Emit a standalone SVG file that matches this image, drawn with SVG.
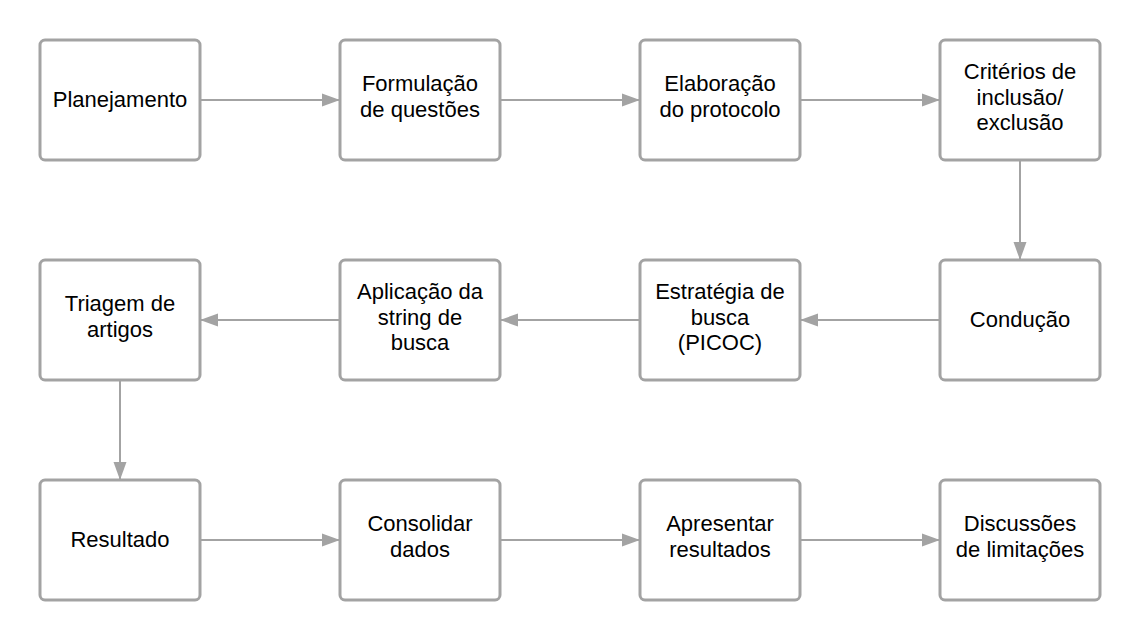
<svg xmlns="http://www.w3.org/2000/svg" width="1140" height="640" viewBox="0 0 1140 640">
<defs>
<marker id="ah" markerUnits="userSpaceOnUse" markerWidth="20" markerHeight="14" refX="18" refY="7" orient="auto">
<path d="M0,0.5 L18,7 L0,13.5 Z" fill="#a3a3a3"/>
</marker>
<style>
.box{fill:#fff;stroke:#a3a3a3;stroke-width:3}
.lbl{font-family:"Liberation Sans",Arial,sans-serif;font-size:22px;fill:#000;text-anchor:middle}
.con{stroke:#a3a3a3;stroke-width:2;fill:none;marker-end:url(#ah)}
</style>
</defs>
<rect width="1140" height="640" fill="#fff"/>
<g id="connectors">
<path class="con" d="M200,100 H340"/>
<path class="con" d="M500,100 H640"/>
<path class="con" d="M800,100 H940"/>
<path class="con" d="M1020,160 V260"/>
<path class="con" d="M940,320 H800"/>
<path class="con" d="M640,320 H500"/>
<path class="con" d="M340,320 H200"/>
<path class="con" d="M120,380 V480"/>
<path class="con" d="M200,540 H340"/>
<path class="con" d="M500,540 H640"/>
<path class="con" d="M800,540 H940"/>
</g>
<g id="n1"><rect class="box" x="40" y="40" width="160" height="120" rx="5"/><text class="lbl" x="120" y="107">Planejamento</text></g>
<g id="n2"><rect class="box" x="340" y="40" width="160" height="120" rx="5"/><text class="lbl" x="420" y="91">Formulação</text><text class="lbl" x="420" y="117">de questões</text></g>
<g id="n3"><rect class="box" x="640" y="40" width="160" height="120" rx="5"/><text class="lbl" x="720" y="91">Elaboração</text><text class="lbl" x="720" y="117">do protocolo</text></g>
<g id="n4"><rect class="box" x="940" y="40" width="160" height="120" rx="5"/><text class="lbl" x="1020" y="79">Critérios de</text><text class="lbl" x="1020" y="105">inclusão/</text><text class="lbl" x="1020" y="130">exclusão</text></g>
<g id="n5"><rect class="box" x="940" y="260" width="160" height="120" rx="5"/><text class="lbl" x="1020" y="327">Condução</text></g>
<g id="n6"><rect class="box" x="640" y="260" width="160" height="120" rx="5"/><text class="lbl" x="720" y="299">Estratégia de</text><text class="lbl" x="720" y="325">busca</text><text class="lbl" x="720" y="350">(PICOC)</text></g>
<g id="n7"><rect class="box" x="340" y="260" width="160" height="120" rx="5"/><text class="lbl" x="420" y="299">Aplicação da</text><text class="lbl" x="420" y="325">string de</text><text class="lbl" x="420" y="350">busca</text></g>
<g id="n8"><rect class="box" x="40" y="260" width="160" height="120" rx="5"/><text class="lbl" x="120" y="311">Triagem de</text><text class="lbl" x="120" y="337">artigos</text></g>
<g id="n9"><rect class="box" x="40" y="480" width="160" height="120" rx="5"/><text class="lbl" x="120" y="547">Resultado</text></g>
<g id="n10"><rect class="box" x="340" y="480" width="160" height="120" rx="5"/><text class="lbl" x="420" y="531">Consolidar</text><text class="lbl" x="420" y="557">dados</text></g>
<g id="n11"><rect class="box" x="640" y="480" width="160" height="120" rx="5"/><text class="lbl" x="720" y="531">Apresentar</text><text class="lbl" x="720" y="557">resultados</text></g>
<g id="n12"><rect class="box" x="940" y="480" width="160" height="120" rx="5"/><text class="lbl" x="1020" y="531">Discussões</text><text class="lbl" x="1020" y="557">de limitações</text></g>
</svg>
